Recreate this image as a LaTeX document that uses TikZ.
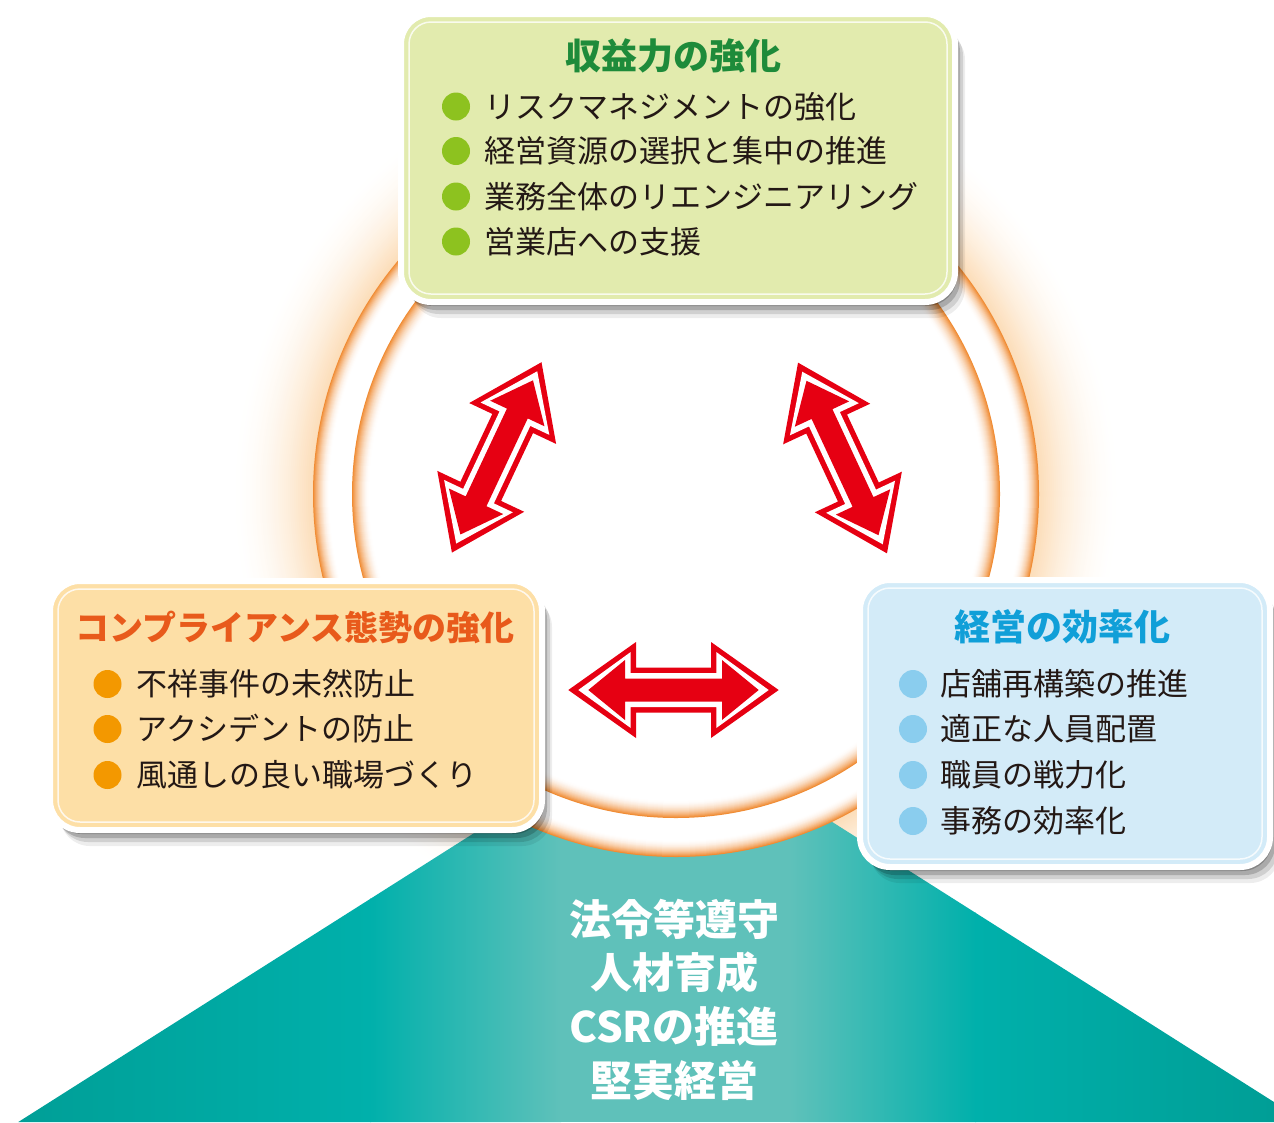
\documentclass[tikz,border=0pt]{standalone}
\usepackage{fontspec}
\newfontfamily\jp{Noto Sans CJK JP}
\usetikzlibrary{shadows}
\definecolor{peach}{RGB}{252,221,184}
\definecolor{ringor}{RGB}{240,140,52}
\definecolor{tealdark}{RGB}{0,158,150}
\definecolor{tealmid}{RGB}{0,176,171}
\definecolor{teallight}{RGB}{95,193,186}
\definecolor{arrowred}{RGB}{230,0,18}
\definecolor{gfill}{RGB}{226,235,174}
\definecolor{ofill}{RGB}{253,223,166}
\definecolor{bfill}{RGB}{211,235,248}
\definecolor{gtitle}{RGB}{30,139,58}
\definecolor{otitle}{RGB}{232,90,27}
\definecolor{btitle}{RGB}{16,159,216}
\definecolor{gbul}{RGB}{141,194,31}
\definecolor{obul}{RGB}{243,152,0}
\definecolor{bbul}{RGB}{138,205,238}
\definecolor{txt}{RGB}{35,24,21}
\tikzset{
  box/.style={rectangle, rounded corners=30pt, draw=white, line width=6pt,
    inner sep=0pt, outer sep=0pt,
    drop shadow={shadow xshift=2pt,shadow yshift=-4pt,opacity=.22,fill=black},
    drop shadow={shadow xshift=5pt,shadow yshift=-8pt,opacity=.18,fill=black},
    drop shadow={shadow xshift=8pt,shadow yshift=-12pt,opacity=.12,fill=black},
    drop shadow={shadow xshift=10pt,shadow yshift=-16pt,opacity=.07,fill=black}},
  innerln/.style={draw=white, line width=1.5pt, rounded corners=22pt, opacity=.8},
  boxtitle/.style={font=\jp\bfseries\fontsize{36}{40}\selectfont, anchor=base, inner sep=0pt},
  item/.style={font=\jp\fontsize{31}{36}\selectfont, anchor=base west, inner sep=0pt, text=txt},
  bullet/.style={circle, minimum size=28pt, inner sep=0pt},
  pillar/.style={font=\jp\bfseries\fontsize{42}{46}\selectfont, anchor=base, inner sep=0pt, text=white},
  dblarrow/.pic={
    \fill[arrowred] (-105.2,0) -- (-37.5,48) -- (-37.5,22.5) -- (37.5,22.5) -- (37.5,48) -- (105.2,0)
      -- (37.5,-48) -- (37.5,-22.5) -- (-37.5,-22.5) -- (-37.5,-48) -- cycle;
    \fill[white] (-95.2,0) -- (-42.8,38) -- (-42.8,17) -- (42.8,17) -- (42.8,38) -- (95.2,0)
      -- (42.8,-38) -- (42.8,-17) -- (-42.8,-17) -- (-42.8,-38) -- cycle;
    \fill[arrowred] (-85.2,0) -- (-48.5,30) -- (-48.5,11.5) -- (48.5,11.5) -- (48.5,30) -- (85.2,0)
      -- (48.5,-30) -- (48.5,-11.5) -- (-48.5,-11.5) -- (-48.5,-30) -- cycle;
  }
}
\begin{document}
\begin{tikzpicture}[x=1pt,y=-1pt]
\useasboundingbox (0,0) rectangle (1274,1122);
\clip (0,0) rectangle (1274,1122);
\fill[white] (0,0) rectangle (1274,1122);
% outer glow
\foreach \r in {450,448,...,364} {
  \pgfmathtruncatemacro\p{100*((450-\r)/86)*((450-\r)/86)}
  \fill[fill=peach!\p!white] (676,494) circle[radius=\r];
}
% teal pillar
\begin{scope}
  \clip (18.3,1122) -- (661.9,714) -- (1305.5,1122) -- cycle;
  \shade[left color=tealdark, right color=tealmid] (0,700) rectangle (371,1122);
  \shade[left color=tealmid, right color=teallight] (370,700) rectangle (561,1122);
  \fill[teallight] (560,700) rectangle (791,1122);
  \shade[left color=teallight, right color=tealmid] (790,700) rectangle (976,1122);
  \shade[left color=tealmid, right color=tealdark] (975,700) rectangle (1274,1122);
\end{scope}
% ring
\foreach \r in {363,362,...,346} {
  \pgfmathtruncatemacro\p{100*((\r-346)/17)*((\r-346)/17)}
  \fill[fill=ringor!\p!white] (676,494) circle[radius=\r];
}
\foreach \r in {324,323,...,306} {
  \pgfmathtruncatemacro\p{100*((\r-306)/18)*((\r-306)/18)}
  \fill[fill=ringor!\p!white] (676,494) circle[radius=\r];
}
% arrows
\pic[rotate=64.8] (leftarrow) at (496.7,457.4) {dblarrow};
\pic[rotate=-65] (rightarrow) at (842.5,458) {dblarrow};
\pic (bottomarrow) at (673.5,690) {dblarrow};
% pillar text
\node[pillar] (p1) at (674,935) {法令等遵守};
\node[pillar] (p2) at (674,988.5) {人材育成};
\node[pillar] (p3) at (674,1042) {CSRの推進};
\node[pillar] (p4) at (674,1096) {堅実経営};
% top box
\node[box, fill=gfill, minimum width=554pt, minimum height=288pt] (profitbox) at (678,158) {};
\draw[innerln] ([xshift=8pt,yshift=-8pt]profitbox.north west) rectangle ([xshift=-8pt,yshift=8pt]profitbox.south east);
\node[boxtitle, text=gtitle] (profittitle) at (673,69.7) {収益力の強化};
\node[bullet, fill=gbul] (gb1) at (456,106.5) {};
\node[bullet, fill=gbul] (gb2) at (456,151) {};
\node[bullet, fill=gbul] (gb3) at (456,196.5) {};
\node[bullet, fill=gbul] (gb4) at (456,241.5) {};
\node[item] (g1) at (484,118.3) {リスクマネジメントの強化};
\node[item] (g2) at (484,162.8) {経営資源の選択と集中の推進};
\node[item] (g3) at (484,208.3) {業務全体のリエンジニアリング};
\node[item] (g4) at (484,253.3) {営業店への支援};
% left box
\node[box, fill=ofill, minimum width=492pt, minimum height=249pt] (compbox) at (296,705.5) {};
\draw[innerln] ([xshift=8pt,yshift=-8pt]compbox.north west) rectangle ([xshift=-8pt,yshift=8pt]compbox.south east);
\node[boxtitle, text=otitle, font=\jp\bfseries\fontsize{34}{38}\selectfont] (comptitle) at (295,640) {コンプライアンス態勢の強化};
\node[bullet, fill=obul] (ob1) at (107.5,684) {};
\node[bullet, fill=obul] (ob2) at (107.5,729) {};
\node[bullet, fill=obul] (ob3) at (107.5,775) {};
\node[item] (o1) at (136.5,695.8) {不祥事件の未然防止};
\node[item] (o2) at (136.5,740.8) {アクシデントの防止};
\node[item] (o3) at (136.5,786.8) {風通しの良い職場づくり};
% right box
\node[box, fill=bfill, minimum width=410pt, minimum height=287pt] (effbox) at (1065,723.5) {};
\draw[innerln] ([xshift=8pt,yshift=-8pt]effbox.north west) rectangle ([xshift=-8pt,yshift=8pt]effbox.south east);
\node[boxtitle, text=btitle] (efftitle) at (1062.5,640.2) {経営の効率化};
\node[bullet, fill=bbul] (bb1) at (913,684) {};
\node[bullet, fill=bbul] (bb2) at (913,729) {};
\node[bullet, fill=bbul] (bb3) at (913,775) {};
\node[bullet, fill=bbul] (bb4) at (913,821) {};
\node[item] (b1) at (940.5,695.8) {店舗再構築の推進};
\node[item] (b2) at (940.5,740.8) {適正な人員配置};
\node[item] (b3) at (940.5,786.8) {職員の戦力化};
\node[item] (b4) at (940.5,832.8) {事務の効率化};
\end{tikzpicture}
\end{document}
